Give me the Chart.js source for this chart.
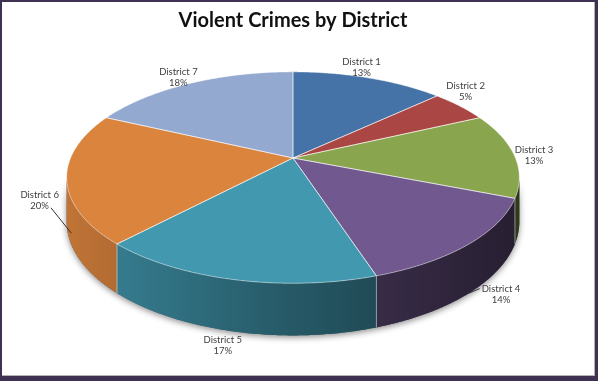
<!DOCTYPE html>
<html>
<head>
<meta charset="utf-8">
<title>Violent Crimes by District</title>
<script src="https://cdn.jsdelivr.net/npm/chart.js@4.4.1/dist/chart.umd.min.js"></script>
<style>
  html, body { margin: 0; padding: 0; background: #fff; }
  #wrap { position: relative; width: 598px; height: 381px; }
  #chartPie { display: block; }
  #frame {
    position: absolute; left: 0; top: 0; width: 598px; height: 381px;
    box-sizing: border-box; pointer-events: none;
    border: solid #3f3151; border-width: 2px 3px 5px 2px;
    box-shadow: inset -1px -1px 0 #b4b4b4;
  }
</style>
</head>
<body>
<div id="wrap">
  <canvas id="chartPie" width="598" height="381"></canvas>
  <div id="frame"></div>
</div>
<script>
/* ── Violent crimes by district — 3D pie ── */

const DISTRICTS = ['District 1', 'District 2', 'District 3', 'District 4', 'District 5', 'District 6', 'District 7'];
const CRIMES    = [13, 5, 13, 14, 17, 20, 18];   // share of violent crimes, %
const FACE_COLORS = ['#4572A7', '#AA4643', '#89A54E', '#71588F', '#4198AF', '#DB843D', '#93A9CF'];

// label offset from the rim of its slice, and leader lines (fraction along slice, fraction of wall height)
const LABEL_NUDGE = [[-7, -10], [6, -15], [20, 1], [32, 1], [-11, 14], [-27, -21.5], [-11.5, -6.5]];
const LEADERS = { 3: [0.5, 1], 5: [0.345, 0.75] };

// tilt / perspective of the disc
const SPREAD = 1.885;   // horizontal radius vs the radius chart.js gives the arcs
const TILT   = 0.459;   // vertical squash
const PERSP  = 0.185;   // near edge bigger than far edge
const DEPTH  = 0.191;   // wall height vs horizontal radius
const HALF_PI = Math.PI / 2;

function geometry(arc) {
  const rx = arc.outerRadius * SPREAD;
  return { cx: arc.x, cy: arc.y, rx, ry: rx * TILT, depth: rx * DEPTH };
}

// theta: clockwise from 12 o'clock
function project(g, theta, drop) {
  const w = 1 + PERSP * Math.cos(theta);
  return [g.cx + g.rx * Math.sin(theta) / w, g.cy + (drop - g.ry * Math.cos(theta)) / w];
}

function rim(ctx, g, from, to, drop, move) {
  const steps = Math.max(2, Math.ceil(Math.abs(to - from) / 0.01));
  for (let i = 0; i <= steps; i++) {
    const p = project(g, from + (to - from) * i / steps, drop);
    if (i === 0 && move) ctx.moveTo(p[0], p[1]);
    else ctx.lineTo(p[0], p[1]);
  }
}

const FRONT_FROM = Math.acos(-PERSP);
const FRONT_TO   = 2 * Math.PI - FRONT_FROM;

const pie3d = {
  id: 'pie3d',
  beforeDatasetsDraw(chart) {
    const ctx = chart.ctx;
    const arcs = chart.getDatasetMeta(0).data;
    const g = geometry(arcs[0]);
    ctx.save();

    // soft shadow under the wall
    ctx.beginPath();
    rim(ctx, g, FRONT_FROM, FRONT_TO, 0, true);
    rim(ctx, g, FRONT_TO, FRONT_FROM, g.depth, false);
    ctx.closePath();
    ctx.shadowColor = 'rgba(0,0,0,0.45)';
    ctx.shadowBlur = 6;
    ctx.shadowOffsetY = 2;
    ctx.fillStyle = '#555';
    ctx.fill();
    ctx.shadowColor = 'transparent';

    // walls, darker to the right
    const dark = ctx.createLinearGradient(g.cx - g.rx * 1.02, 0, g.cx + g.rx * 1.02, 0);
    dark.addColorStop(0, 'rgba(0,0,0,0.12)');
    dark.addColorStop(0.5, 'rgba(0,0,0,0.42)');
    dark.addColorStop(1, 'rgba(0,0,0,0.66)');
    arcs.forEach(arc => {
      const a = Math.max(arc.startAngle + HALF_PI, FRONT_FROM);
      const b = Math.min(arc.endAngle + HALF_PI, FRONT_TO);
      if (b <= a) return;
      ctx.beginPath();
      rim(ctx, g, a, b, 0, true);
      rim(ctx, g, b, a, g.depth, false);
      ctx.closePath();
      ctx.fillStyle = arc.options.backgroundColor;
      ctx.fill();
      ctx.fillStyle = dark;
      ctx.fill();
    });

    ctx.strokeStyle = 'rgba(255,255,255,0.45)';
    ctx.lineWidth = 1;
    arcs.forEach(arc => {
      const t = arc.startAngle + HALF_PI;
      if (t <= FRONT_FROM || t >= FRONT_TO) return;
      const p = project(g, t, 0), q = project(g, t, g.depth);
      ctx.beginPath();
      ctx.moveTo(p[0], p[1]);
      ctx.lineTo(q[0], q[1]);
      ctx.stroke();
    });

    // top faces
    arcs.forEach(arc => {
      ctx.beginPath();
      ctx.moveTo(g.cx, g.cy);
      rim(ctx, g, arc.startAngle + HALF_PI, arc.endAngle + HALF_PI, 0, false);
      ctx.closePath();
      ctx.fillStyle = arc.options.backgroundColor;
      ctx.fill();
    });
    arcs.forEach(arc => {
      ctx.beginPath();
      ctx.moveTo(g.cx, g.cy);
      rim(ctx, g, arc.startAngle + HALF_PI, arc.endAngle + HALF_PI, 0, false);
      ctx.closePath();
      ctx.stroke();
    });

    ctx.restore();
    return false;
  },

  afterDraw(chart) {
    const ctx = chart.ctx;
    const arcs = chart.getDatasetMeta(0).data;
    const g = geometry(arcs[0]);
    const values = chart.data.datasets[0].data;
    const total = values.reduce((s, v) => s + v, 0);

    ctx.save();
    ctx.font = '9.5px Lato';
    ctx.fillStyle = '#404040';
    ctx.strokeStyle = '#303030';
    ctx.lineWidth = 1;
    ctx.textAlign = 'center';
    ctx.textBaseline = 'middle';

    arcs.forEach((arc, i) => {
      const start = arc.startAngle + HALF_PI, end = arc.endAngle + HALF_PI;
      const mid = (start + end) / 2;
      const front = mid > FRONT_FROM && mid < FRONT_TO;
      const anchor = project(g, mid, front ? g.depth : 0);
      const x = anchor[0] + LABEL_NUDGE[i][0];
      const y = anchor[1] + LABEL_NUDGE[i][1];
      const lines = [chart.data.labels[i], Math.round(values[i] / total * 100) + '%'];
      const ys = [y - 5.5, y + 5.5];
      ctx.fillText(lines[0], x, ys[0]);
      ctx.fillText(lines[1], x, ys[1]);

      const lead = LEADERS[i];
      if (!lead) return;
      const p = project(g, start + (end - start) * lead[0], g.depth * lead[1]);
      const k = Math.abs(p[1] - ys[0]) < Math.abs(p[1] - ys[1]) ? 0 : 1;
      const w = ctx.measureText(lines[k]).width;
      const sx = p[0] > x ? x + w / 2 + 2 : x - w / 2 - 2;
      ctx.beginPath();
      ctx.moveTo(sx, ys[k] + k * 2);
      ctx.lineTo(p[0], p[1]);
      ctx.stroke();
    });
    ctx.restore();
  }
};

new Chart(document.getElementById('chartPie'), {
  type: 'pie',
  data: {
    labels: DISTRICTS,
    datasets: [{ data: CRIMES, backgroundColor: FACE_COLORS, borderWidth: 0 }]
  },
  options: {
    responsive: false,
    animation: false,
    layout: { padding: { left: 0, right: 12, top: 0, bottom: 105 } },
    plugins: {
      legend: { display: false },
      tooltip: { enabled: false },
      title: {
        display: true,
        text: 'Violent Crimes by District',
        color: '#111',
        font: { family: 'Lato', size: 20, weight: 'bold' },
        padding: { top: 9, bottom: 7 }
      }
    }
  },
  plugins: [pie3d]
});
</script>
</body>
</html>
